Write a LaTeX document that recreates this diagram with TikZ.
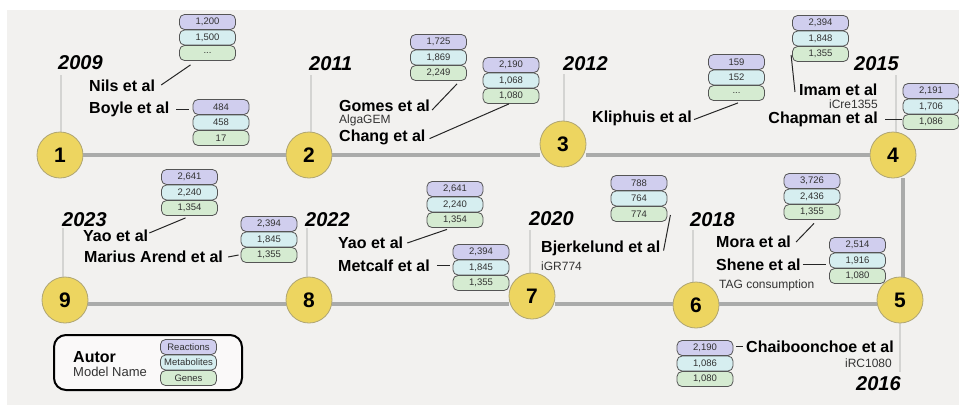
\documentclass[tikz,border=0pt]{standalone}
\usepackage{fontspec}
\setmainfont{Liberation Sans}
\usetikzlibrary{calc}

\definecolor{bgc}{RGB}{242,241,239}
\definecolor{railc}{RGB}{170,171,170}
\definecolor{stemc}{RGB}{212,212,210}
\definecolor{dotc}{RGB}{237,213,96}
\definecolor{dotedge}{RGB}{175,165,115}
\definecolor{reac}{RGB}{208,206,238}
\definecolor{meta}{RGB}{214,238,240}
\definecolor{gene}{RGB}{213,235,209}
\definecolor{boxedge}{RGB}{85,85,85}
\definecolor{numc}{RGB}{50,50,50}

\tikzset{
  cell/.style={draw=boxedge, line width=0.8pt, rounded corners=5pt,
    minimum width=56pt, minimum height=15pt, inner sep=0pt,
    font=\fontsize{9.5}{10}\selectfont, text=numc},
  rcell/.style={cell, fill=reac},
  mcell/.style={cell, fill=meta},
  gcell/.style={cell, fill=gene},
  rail/.style={draw=railc, line width=4pt},
  stem/.style={draw=stemc, line width=2.5pt},
  dot/.style={circle, fill=dotc, draw=dotedge, line width=0.8pt,
    minimum size=46pt, inner sep=0pt, font=\fontsize{21}{21}\selectfont\bfseries},
  yearlbl/.style={anchor=base west, inner sep=0pt,
    font=\fontsize{20}{20}\selectfont\bfseries\itshape},
  auth/.style={anchor=base west, inner sep=0pt,
    font=\fontsize{16}{16}\selectfont\bfseries},
  model/.style={anchor=base west, inner sep=0pt, text=black!80,
    font=\fontsize{12}{12}\selectfont},
  conn/.style={draw=black!85, line width=1pt},
}

% three stacked cells: reactions, metabolites, genes
\newcommand\modelstack[6]{%
  \node[rcell] (#1r) at (#2,#3) {#4};
  \node[mcell] (#1m) at (#2,#3+15.5) {#5};
  \node[gcell] (#1g) at (#2,#3+31) {#6};
}

\begin{document}
\begin{tikzpicture}[x=1pt,y=-1pt]
\useasboundingbox (0,0) rectangle (959,405);
\fill[bgc] (7,10) rectangle (959,405);

% year stems
\draw[stem] (61,75) -- (61,150);
\draw[stem] (311,75) -- (311,150);
\draw[stem] (564,74) -- (564,140);
\draw[stem] (896,75) -- (896,150);
\draw[stem] (900,300) -- (900,372);
\draw[stem] (693,230) -- (693,300);
\draw[stem] (530,230) -- (530,296);
\draw[stem] (307,228) -- (307,300);
\draw[stem] (63,228) -- (63,300);

% milestones
\node[dot] (m1) at (60,155) {1};
\node[dot] (m2) at (309,155) {2};
\node[dot] (m3) at (563,144) {3};
\node[dot] (m4) at (893,155) {4};
\node[dot] (m5) at (900,300) {5};
\node[dot] (m6) at (696,305) {6};
\node[dot] (m7) at (532,296) {7};
\node[dot] (m8) at (309,300) {8};
\node[dot] (m9) at (65,300) {9};
\coordinate (cTop) at (903,155);
\coordinate (cBot) at (903,304);

% timeline rails
\path[rail] (m1.east) -- (m2.west);
\path[rail] (m2.east) -- (m3.west |- m2.east);
\path[rail] (m3.east |- m2.east) -- (m4.west);
\path[rail] (m4.south -| cTop) -- (m5.north -| cTop);
\path[rail] (m5.west |- cBot) -- (m6.east |- cBot);
\path[rail] (m6.west |- cBot) -- (m7.east |- cBot);
\path[rail] (m7.west |- cBot) -- (m8.east |- cBot);
\path[rail] (m8.west |- cBot) -- (m9.east |- cBot);

% years
\node[yearlbl] (y2009) at (58,69.2) {2009};
\node[yearlbl] (y2011) at (309,70.2) {2011};
\node[yearlbl] (y2012) at (563,70.2) {2012};
\node[yearlbl] (y2015) at (854,70.2) {2015};
\node[yearlbl] (y2016) at (856,390.2) {2016};
\node[yearlbl] (y2018) at (690,226.2) {2018};
\node[yearlbl] (y2020) at (529,225.2) {2020};
\node[yearlbl] (y2022) at (305,226.2) {2022};
\node[yearlbl] (y2023) at (62,226.2) {2023};

% authors and model names
\node[auth] (nils) at (89,91.7) {Nils et al};
\node[auth] (boyle) at (89,113.7) {Boyle et al};
\node[auth] (gomes) at (339,111.7) {Gomes et al};
\node[model] (algagem) at (339,123.3) {AlgaGEM};
\node[auth] (chang) at (339,141.7) {Chang et al};
\node[auth] (kliph) at (592,122.7) {Kliphuis et al};
\node[auth] (imam) at (799,95.7) {Imam et al};
\node[model, anchor=base east] (icre) at (878,108.3) {iCre1355};
\node[auth, anchor=base east] (chap) at (878,123.7) {Chapman et al};
\node[auth] (yao23) at (83,241.7) {Yao et al};
\node[auth] (marius) at (84,262.7) {Marius Arend et al};
\node[auth] (yao22) at (338,248.7) {Yao et al};
\node[auth] (metcalf) at (338,271.7) {Metcalf et al};
\node[auth] (bjerk) at (541,252.7) {Bjerkelund et al};
\node[model] (igr) at (541,270.3) {iGR774};
\node[auth] (mora) at (716,247.7) {Mora et al};
\node[auth] (shene) at (716,270.7) {Shene et al};
\node[model] (tag) at (719,288.3) {TAG consumption};
\node[auth] (chai) at (746,352.7) {Chaiboonchoe et al};
\node[model, anchor=base east] (irc) at (892,367.3) {iRC1080};

% model sizes
\modelstack{nils}{207.5}{22}{1,200}{1,500}{...}
\modelstack{boyle}{221}{107}{484}{458}{17}
\modelstack{gomes}{438.5}{42}{1,725}{1,869}{2,249}
\modelstack{chang}{511}{65}{2,190}{1,068}{1,080}
\modelstack{kliph}{736.5}{62}{159}{152}{...}
\modelstack{imam}{820.5}{23}{2,394}{1,848}{1,355}
\modelstack{chap}{931}{91}{2,191}{1,706}{1,086}
\modelstack{yaoA}{189.5}{177}{2,641}{2,240}{1,354}
\modelstack{marius}{269}{224}{2,394}{1,845}{1,355}
\modelstack{yaoB}{455}{189}{2,641}{2,240}{1,354}
\modelstack{metcalf}{481}{252}{2,394}{1,845}{1,355}
\modelstack{bjerk}{639}{183}{788}{764}{774}
\modelstack{mora}{812}{181}{3,726}{2,436}{1,355}
\modelstack{shene}{857.5}{245}{2,514}{1,916}{1,080}
\modelstack{chai}{705}{348}{2,190}{1,086}{1,080}

% leaders from authors to their models
\draw[conn] ($(nils.east)+(6,-1)$) -- ($(nilsg.south)+(-17,4)$);
\draw[conn] ($(boyle.east)+(7,0)$) -- ($(boyler.west |- boyle.east)+(-4,0)$);
\draw[conn] ($(gomes.east)+(2,4)$) -- ($(gomesg.south)+(18.5,3)$);
\draw[conn] ($(chang.east)+(4,1)$) -- ($(changg.south)+(-2,0)$);
\draw[conn] ($(kliph.east)+(2,1)$) -- ($(kliphg.south)+(1.5,2)$);
\draw[conn] ($(imam.west)+(-4,2)$) -- ($(imamg.west)+(-1,1)$);
\draw[conn] ($(chap.east)+(7,0)$) -- ($(chapg.west |- chap.east)+(-1,0)$);
\draw[conn] ($(yao23.east)+(1,-3)$) -- ($(yaoAg.south)+(-4,2)$);
\draw[conn] ($(marius.east)+(5,0)$) -- ($(mariusg.west)+(-2,0)$);
\draw[conn] ($(yao22.east)+(4,0)$) -- ($(yaoBg.south)+(-8,1.5)$);
\draw[conn] ($(metcalf.east)+(7,0)$) -- ($(metcalfm.west |- metcalf.east)+(-3,0)$);
\draw[conn] ($(bjerk.east)+(3,2)$) -- ($(bjerkg.east)+(3,1)$);
\draw[conn] ($(mora.east)+(5,0)$) -- ($(morag.south)+(2,3.5)$);
\draw[conn] ($(shene.east)+(2,0)$) -- ($(shener.west |- shene.east)+(-3,0)$);
\draw[conn] ($(chair.east |- chai.west)+(3,0)$) -- ($(chai.west)+(-3,0)$);

% key
\node[draw=black, line width=2pt, rounded corners=12pt, fill=white!60!bgc,
  minimum width=188pt, minimum height=55pt] (key) at (148,362.5) {};
\node[auth] (keyauth) at (73,362.7) {Autor};
\node[model, font=\fontsize{13}{13}\selectfont] (keymodel) at (73,376.7) {Model Name};
\modelstack{key}{188.5}{347}{Reactions}{Metabolites}{Genes}
\end{tikzpicture}
\end{document}
